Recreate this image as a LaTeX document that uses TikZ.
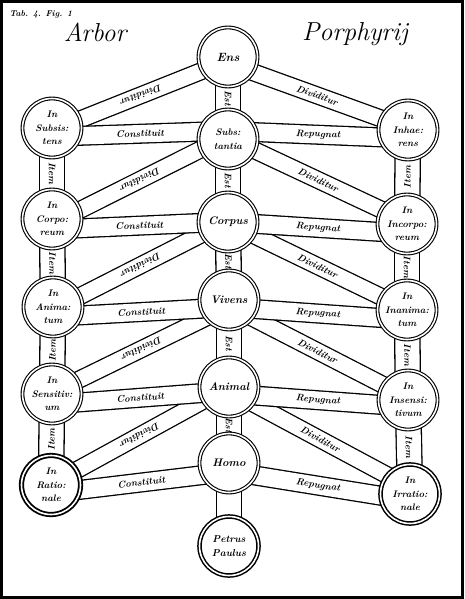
\documentclass[tikz,border=0pt]{standalone}
\usepackage{fontspec}
\usetikzlibrary{backgrounds}
\tikzset{
  orb/.style={circle,draw,double,double distance=1.6pt,line width=1.1pt,fill=white,minimum size=59pt,inner sep=0pt,align=center,
    font=\fontsize{9.5}{13.5}\selectfont\bfseries\itshape},
  band/.style={draw,double=white,double distance=15.5pt,line width=1.3pt,shorten <=-10pt,shorten >=-10pt},
  flat/.style={band,double distance=17.5pt},
  stem/.style={band,double distance=24pt},
  tag/.style={midway,sloped,inner sep=0pt,font=\fontsize{9.5}{10}\selectfont\bfseries\itshape},
  headline/.style={font=\fontsize{26}{28}\selectfont\itshape}
}

\begin{document}
\begin{tikzpicture}[x=1pt,y=-1pt]
    \useasboundingbox (0,0) rectangle (464,599);
    \node[orb,font=\fontsize{12}{13}\selectfont\bfseries\itshape] (ens) at (228,57) {Ens};
    \node[orb] (subst) at (228,139) {Subs:\\tantia};
    \node[orb,font=\fontsize{11}{13}\selectfont\bfseries\itshape] (corpus) at (228,222) {Corpus};
    \node[orb,font=\fontsize{11}{13}\selectfont\bfseries\itshape] (vivens) at (229,300) {Vivens};
    \node[orb,font=\fontsize{11}{13}\selectfont\bfseries\itshape] (animal) at (229,387) {Animal};
    \node[orb,font=\fontsize{11}{13}\selectfont\bfseries\itshape] (homo) at (229,463) {Homo};
    \node[orb,line width=1.5pt,font=\fontsize{10}{14}\selectfont\bfseries\itshape] (petrus) at (229,546) {Petrus\\Paulus};
    \node[orb] (subsis) at (52,128) {In\\Subsis:\\tens};
    \node[orb] (corpo) at (52,219) {In\\Corpo:\\reum};
    \node[orb] (anim) at (53,307) {In\\Anima:\\tum};
    \node[orb] (sensi) at (52,394) {In\\Sensitiv:\\um};
    \node[orb,line width=1.8pt] (ratio) at (51,485) {In\\Ratio:\\nale};
    \node[orb] (inhae) at (408,130) {In\\Inhae:\\rens};
    \node[orb] (incorpo) at (407,224) {In\\Incorpo:\\reum};
    \node[orb] (inanim) at (407,310) {In\\Inanima:\\tum};
    \node[orb] (insensi) at (408,400) {In\\Insensi:\\tivum};
    \node[orb,line width=1.5pt] (irratio) at (410,494) {In\\Irratio:\\nale};
    \begin{scope}[on background layer]
        \draw[stem] (ens) -- (subst) node[tag]{Est};
        \draw[stem] (subst) -- (corpus) node[tag]{Est};
        \draw[stem] (corpus) -- (vivens) node[tag]{Est};
        \draw[stem] (vivens) -- (animal) node[tag]{Est};
        \draw[stem] (animal) -- (homo) node[tag]{Est};
        \draw[stem] (homo) -- (petrus);
        \draw[stem] (subsis) -- (corpo) node[tag]{Item};
        \draw[stem] (corpo) -- (anim) node[tag]{Item};
        \draw[stem] (anim) -- (sensi) node[tag]{Item};
        \draw[stem] (sensi) -- (ratio) node[tag]{Item};
        \draw[stem] (inhae) -- (incorpo) node[tag]{Item};
        \draw[stem] (incorpo) -- (inanim) node[tag]{Item};
        \draw[stem] (inanim) -- (insensi) node[tag]{Item};
        \draw[stem] (insensi) -- (irratio) node[tag]{Item};
        \draw[band] (ens.208) -- (subsis.17) node[tag,allow upside down]{Dividitur};
        \draw[band] (subst.201) -- (corpo.18) node[tag,allow upside down]{Dividitur};
        \draw[band] (corpus.205) -- (anim.22) node[tag,allow upside down]{Dividitur};
        \draw[band] (vivens.217) -- (sensi.28) node[tag,allow upside down]{Dividitur};
        \draw[band] (animal.208) -- (ratio.30) node[tag,allow upside down]{Dividitur};
        \draw[band] (ens.-31) -- (inhae.157) node[tag]{Dividitur};
        \draw[band] (subst.-23) -- (incorpo.151) node[tag]{Dividitur};
        \draw[band] (corpus.-27) -- (inanim.153) node[tag]{Dividitur};
        \draw[band] (vivens.-37) -- (insensi.149) node[tag]{Dividitur};
        \draw[band] (animal.-34) -- (irratio.141) node[tag]{Dividitur};
        \draw[flat] (subsis.-15) -- (subst.166) node[tag]{Constituit};
        \draw[flat] (corpo.-18) -- (corpus.182) node[tag]{Constituit};
        \draw[flat] (anim.-16) -- (vivens.197) node[tag]{Constituit};
        \draw[flat] (sensi.-16) -- (animal.192) node[tag]{Constituit};
        \draw[flat] (ratio.-9) -- (homo.204) node[tag]{Constituit};
        \draw[flat] (subst.13) -- (inhae.194) node[tag]{Repugnat};
        \draw[flat] (corpus.-4) -- (incorpo.195) node[tag]{Repugnat};
        \draw[flat] (vivens.-18) -- (inanim.195) node[tag]{Repugnat};
        \draw[flat] (animal.-17) -- (insensi.189) node[tag]{Repugnat};
        \draw[flat] (homo.-25) -- (irratio.183) node[tag]{Repugnat};
    \end{scope}
    \node[font=\fontsize{8.5}{9}\selectfont\bfseries\itshape,anchor=west] (plate) at (6,14) {Tab. 4. Fig. 1};
    \node[headline] (arbor) at (95,32) {Arbor};
    \node[headline] (porph) at (355,34) {Porphyrij};
    \draw[line width=3pt] (1.5,1.5) rectangle (462.5,597.5);
\end{tikzpicture}
\end{document}
